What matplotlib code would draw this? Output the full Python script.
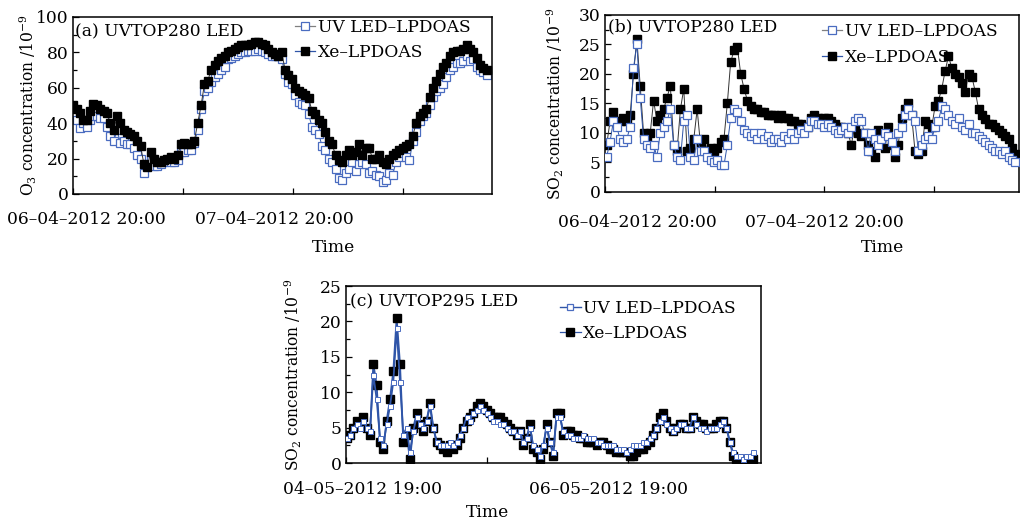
import pandas as pd
import matplotlib.pyplot as plt
from matplotlib.lines import Line2D
from matplotlib.ticker import MultipleLocator

plt.rcParams['font.family'] = 'DejaVu Serif'
plt.rcParams['mathtext.fontset'] = 'dejavuserif'

# (a) O3, UVTOP280 LED, from 06-04-2012 20:04, one value every 22 min
o3_uv = [44, 42, 37, 40, 38, 42, 44, 44, 43, 43, 38, 33, 30, 36, 29, 30, 28, 28, 26, 22,
         20, 12, 17, 19, 16, 16, 17, 18, 19, 18, 18, 19, 24, 24, 25, 25, 29, 36, 48, 58,
         60, 63, 66, 68, 70, 72, 76, 77, 78, 79, 80, 80, 81, 81, 81, 82, 81, 80, 79, 78,
         78, 78, 76, 68, 63, 62, 56, 52, 51, 50, 45, 38, 36, 34, 27, 25, 20, 18, 14, 9,
         8, 12, 14, 18, 13, 17, 18, 17, 12, 13, 11, 10, 7, 8, 12, 11, 18, 21, 23, 21,
         19, 30, 35, 41, 44, 46, 50, 55, 58, 60, 62, 66, 70, 72, 74, 74, 75, 78, 75, 76,
         72, 70, 69, 67]
o3_xe = [50, 48, 46, 42, 42, 47, 51, 50, 48, 47, 46, 40, 36, 44, 40, 36, 35, 34, 33, 30,
         27, 17, 15, 24, 20, 18, 18, 19, 20, 21, 20, 22, 28, 29, 28, 28, 30, 40, 50, 62,
         64, 70, 73, 75, 77, 78, 80, 81, 82, 83, 84, 84, 84, 85, 86, 86, 85, 84, 82, 80,
         79, 78, 80, 70, 67, 65, 60, 58, 57, 56, 54, 47, 45, 42, 40, 35, 30, 28, 22, 19,
         18, 22, 25, 22, 24, 28, 22, 26, 26, 20, 20, 22, 18, 17, 20, 22, 23, 25, 26, 27,
         28, 33, 40, 44, 46, 48, 55, 60, 64, 68, 72, 74, 78, 80, 81, 81, 82, 84, 82, 80,
         77, 73, 71, 70]

# (b) SO2, UVTOP280 LED, from 06-04-2012 20:11, one value every 22 min
so2_b_uv = [6, 8.5, 12, 11, 9, 8.5, 9, 11, 21, 25, 16, 9, 8, 7.5, 8, 6, 10, 11, 12, 14,
            8, 6, 5.5, 12, 13, 6, 5.5, 9, 7, 7, 6, 5.5, 5, 5.5, 4.5, 4.5, 8, 12.5, 14, 13.5,
            12, 10.5, 10, 9.5, 10, 9, 10, 9, 9.5, 8.5, 9, 9, 8.5, 9.5, 9, 10, 9, 10, 10.5, 10,
            11, 12, 12, 11.5, 11.5, 11, 11.5, 11, 10.5, 10, 10.5, 11, 10, 11, 12, 12.5, 12, 10, 7, 10,
            9, 8, 9, 10, 9.5, 8.5, 7, 10, 11, 13, 14, 13, 12, 7, 8, 9, 9.5, 9, 11, 12,
            14.5, 14, 13, 12, 11.5, 12.5, 11, 10.5, 11.5, 10, 10, 9.5, 9, 8.5, 8, 7.5, 7, 7, 6.5, 7,
            6, 5.5, 5]
so2_b_xe = [8, 12, 13.5, 12, 12, 12.5, 12, 13, 20, 26, 18, 10, 9, 10, 15.5, 12, 13, 14, 16, 18,
            8, 7, 14, 17.5, 7, 7.5, 9, 14, 8, 9, 7, 7.5, 7, 7.5, 8.5, 9, 15, 22, 24, 24.5,
            20, 17.5, 15.5, 14.5, 14, 14, 13.5, 13.5, 13, 13, 13, 12.5, 13, 12.5, 12.5, 12, 12, 11.5, 11.5, 11,
            11, 12.5, 13, 12.5, 12, 12.5, 12.5, 12, 11.5, 11, 11, 10.5, 10, 8, 11, 10, 9.5, 10, 8, 7,
            6, 10.5, 9, 7.5, 11, 8, 6, 8, 12.5, 14, 15, 13, 7, 6.5, 7, 12, 11.5, 11, 14.5, 15.5,
            17.5, 20.5, 23, 21, 20, 19.5, 18.5, 17, 20, 19.5, 17, 14, 13, 12.3, 11.5, 11.5, 11, 10.5, 10, 9.5,
            9, 7.5, 6.5]

# (c) SO2, UVTOP295 LED, from 04-05-2012 19:07, one value every 34 min
so2_c_uv = [3.5, 4, 5, 5.5, 5, 6, 5, 4.5, 12.5, 9, 3.5, 2.5, 5.5, 8, 11.5, 19, 11.5, 4, 5, 1.5,
            4.5, 6.5, 5.5, 5, 6, 8, 5, 3, 2.5, 2.5, 2.5, 3, 2.5, 3, 4, 5, 6.5, 6, 7, 7.5,
            8, 7.5, 7, 6.5, 6, 6, 5.5, 5.5, 5, 4.5, 4.5, 4, 4.5, 3, 3.5, 5, 2.5, 2, 1, 2.5,
            5, 3, 1.5, 6.5, 6.5, 4.5, 4, 4, 3.5, 3.5, 3.5, 4, 3.5, 3.5, 3.5, 3, 3, 2.5, 2.5, 2.5,
            2.5, 2, 2, 2, 1.5, 2, 2.5, 2.5, 2.5, 3, 3, 3.5, 4, 5, 6, 6.5, 5.5, 5, 4.5, 5,
            5.5, 5.5, 5, 5, 6.5, 5.5, 5, 5, 4.5, 5, 5, 5, 5.5, 6, 5, 3, 1.5, 1, 1, 0.5,
            1, 1, 1.5]
so2_c_xe = [3.5, 4, 5, 6, 5.5, 6.5, 5, 4, 14, 11, 3, 2, 6, 9, 13, 20.5, 14, 3, 4, 0.5,
            5, 7, 5.5, 4.5, 6, 8.5, 5, 3, 2.5, 2, 1.5, 2.5, 2, 2.5, 3.5, 5, 6, 6.5, 7, 8,
            8.5, 8, 7.5, 7, 6.5, 6.5, 6.5, 6, 5.5, 5, 4.5, 4, 4.5, 2.5, 3.5, 5.5, 2, 1.5, 0.5, 2,
            5.5, 3, 1, 7, 7, 4, 4.5, 4.5, 4, 4, 3.5, 3.5, 3, 3, 3, 2.5, 3, 3, 2.5, 2,
            2, 1.5, 1.5, 1.5, 1.5, 1, 1, 1.5, 2, 2, 2.5, 3, 4, 5, 6.5, 7, 6, 5, 4.5, 5,
            5.5, 5.5, 5, 5, 6.5, 6, 5.5, 5.5, 5, 5, 5, 5.5, 6, 6, 5, 3, 1, 0.5, 0.5, 0.5,
            0.5, 0.5, 0.5]

BLUE = '#4a6cc0'
LINE_BLUE = '#2f55a8'
FS = 12.3


def times(start, freq, n):
    return pd.date_range(start, periods=n, freq=freq).to_pydatetime()


def draw_panel(fig, rect, t0, t_end, step_h, ntick, tick_lab, lab_dx, lab_dy,
               uv, xe, start, freq, ymax, ymaj, ymin, ylabel, ylab_x,
               title, title_xy, leg_xy, time_xy, small=False, uv_on_top=True):
    ax = fig.add_axes(rect)
    tu = times(start, freq, len(uv))
    tx = times(start, freq, len(xe))
    if small:
        uv_kw = dict(color=LINE_BLUE, lw=1.3, marker='s', ms=3.6, mfc='white',
                     mec=BLUE, mew=0.7)
        xe_kw = dict(color=LINE_BLUE, lw=1.3, marker='s', ms=5.2, mfc='black',
                     mec='black')
    else:
        uv_kw = dict(color=LINE_BLUE, lw=0.7, marker='s', ms=5.4, mfc='white',
                     mec=BLUE, mew=0.9)
        xe_kw = dict(color='#333333', lw=0.7, marker='s', ms=5.4, mfc='black',
                     mec='black')
    if uv_on_top:
        ax.plot(tx, xe, zorder=2, **xe_kw)
        ax.plot(tu, uv, zorder=3, **uv_kw)
    else:
        ax.plot(tu, uv, zorder=2, **uv_kw)
        ax.plot(tx, xe, zorder=3, **xe_kw)

    start_t = pd.Timestamp(t0)
    ticks = [(start_t + pd.Timedelta(hours=step_h * i)).to_pydatetime() for i in range(ntick)]
    ax.set_xlim(start_t.to_pydatetime(), (start_t + pd.Timedelta(hours=t_end)).to_pydatetime())
    ax.set_xticks(ticks)
    ax.set_xticklabels([''] * ntick)
    # date labels sit off-centre from their ticks in the original
    for tk, lab, dx in zip(ticks, tick_lab, lab_dx):
        if lab:
            ax.annotate(lab, xy=(tk, 0), xycoords=('data', 'axes fraction'),
                        xytext=(dx, -lab_dy), textcoords='offset points',
                        ha='center', va='top', fontsize=FS, annotation_clip=False)
    ax.set_ylim(0, ymax)
    ax.yaxis.set_major_locator(MultipleLocator(ymaj))
    ax.yaxis.set_minor_locator(MultipleLocator(ymin))
    ax.tick_params(axis='both', which='both', direction='in', labelsize=FS,
                   top=False, right=False, width=0.9)
    ax.tick_params(axis='both', which='major', length=4)
    ax.tick_params(axis='y', which='minor', length=3)
    ax.tick_params(axis='y', pad=3)
    for sp in ax.spines.values():
        sp.set_linewidth(1.1)

    ax.set_ylabel(ylabel, fontsize=11.2)
    ax.yaxis.set_label_coords(ylab_x, 0.5)
    ax.yaxis.label.set_va('center')
    ax.set_xlabel('Time', fontsize=FS)
    ax.xaxis.set_label_coords(*time_xy)
    ax.xaxis.label.set_va('center')

    ax.text(title_xy[0], title_xy[1], title, transform=ax.transAxes, fontsize=FS,
            va='center', ha='left')

    if small:
        h_uv = Line2D([], [], color=LINE_BLUE, lw=1.0, marker='s', ms=4.5, mfc='white',
                      mec=BLUE, mew=0.9)
    else:
        h_uv = Line2D([], [], color='#808080', lw=0.9, marker='s', ms=5.5, mfc='white',
                      mec=BLUE, mew=0.9)
    h_xe = Line2D([], [], color=LINE_BLUE, lw=0.9, marker='s', ms=5.5, mfc='black',
                  mec='black')
    ax.legend([h_uv, h_xe], ['UV LED\u2013LPDOAS', 'Xe\u2013LPDOAS'], loc='upper left',
              bbox_to_anchor=leg_xy, frameon=False, fontsize=FS, handlelength=1.2,
              handletextpad=0.15, borderpad=0, borderaxespad=0, labelspacing=0.5)
    return ax


fig = plt.figure(figsize=(10.27, 5.27), dpi=100)

draw_panel(fig, [0.0708, 0.6319, 0.4083, 0.3359], '2012-04-06 20:00', 45.74, 12, 4,
           ['06\u201304\u20132012 20:00', '', '07\u201304\u20132012 20:00', ''], [10, 0, -13, 0], 12,
           o3_uv, o3_xe, '2012-04-06 20:04', '22min', 100, 20, 10,
           'O$_3$ concentration /10$^{-9}$', -0.107,
           '(a) UVTOP280 LED', (0.005, 0.915), (0.53, 0.989), (0.623, -0.30),
           uv_on_top=False)

draw_panel(fig, [0.5891, 0.6357, 0.4031, 0.3359], '2012-04-06 20:00', 45.3, 12, 4,
           ['06\u201304\u20132012 20:00', '', '07\u201304\u20132012 20:00', ''], [23, 0, 0, 0], 16,
           so2_b_uv, so2_b_xe, '2012-04-06 20:11', '22min', 30, 5, 2.5,
           'SO$_2$ concentration /10$^{-9}$', -0.121,
           '(b) UVTOP280 LED', (0.007, 0.932), (0.524, 0.953), (0.671, -0.311))

draw_panel(fig, [0.3369, 0.1214, 0.4041, 0.3359], '2012-05-04 19:00', 70.6, 24, 3,
           ['04\u201305\u20132012 19:00', '', '06\u201305\u20132012 19:00'], [12, 0, -14], 13,
           so2_c_uv, so2_c_xe, '2012-05-04 19:07', '34min', 25, 5, 2.5,
           'SO$_2$ concentration /10$^{-9}$', -0.128,
           '(c) UVTOP295 LED', (0.01, 0.91), (0.516, 0.922), (0.34, -0.277), small=True)

fig.savefig('out.png', dpi=100)
